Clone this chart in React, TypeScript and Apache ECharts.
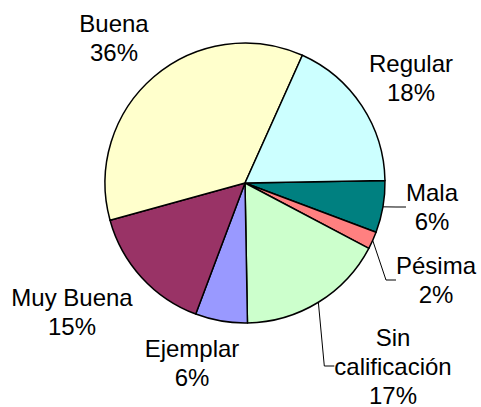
import React, { useEffect, useRef } from "react";
import * as echarts from "echarts";

const categories = ["Mala", "Pésima", "Sin\ncalificación", "Ejemplar", "Muy Buena", "Buena", "Regular"];
const values = [6, 2, 17, 6, 15, 36, 18];
const colors = ["#008080", "#FF8080", "#CCFFCC", "#9999FF", "#993366", "#FFFFCC", "#CCFFFF"];
const showLeader = [true, true, true, false, false, false, false];
const labelCenters: [number, number][] = [
  [432, 207],
  [436, 280],
  [393, 366],
  [192, 363],
  [72, 312],
  [114, 38],
  [411, 78],
];

export default function App() {
  const ref = useRef<HTMLDivElement>(null);
  useEffect(() => {
    const chart = echarts.init(ref.current!, null, { renderer: "svg" });
    chart.setOption({
      animation: false,
      backgroundColor: "#ffffff",
      series: [
        {
          type: "pie",
          center: [245, 183],
          radius: 140,
          startAngle: 1,
          clockwise: true,
          avoidLabelOverlap: false,
          itemStyle: { borderColor: "#000", borderWidth: 1.5 },
          label: {
            show: true,
            position: "outside",
            formatter: "{b}\n{d}%",
            fontFamily: "Liberation Sans, Arial, sans-serif",
            fontSize: 24,
            lineHeight: 29,
            color: "#000",
            align: "center",
          },
          labelLine: { show: true, lineStyle: { color: "#000", width: 1 }, length: 10, length2: 10 },
          emphasis: { disabled: true },
          labelLayout: (p: any) => {
            const c = labelCenters[p.dataIndex];
            return { x: c[0], y: c[1], align: "center", verticalAlign: "middle" };
          },
          data: categories.map((name, i) => ({
            name,
            value: values[i],
            itemStyle: { color: colors[i] },
            labelLine: { show: showLeader[i] },
          })),
        },
      ],
    });
    return () => chart.dispose();
  }, []);
  return <div ref={ref} style={{ position: "fixed", left: 0, top: 0, width: 481, height: 407 }} />;
}
